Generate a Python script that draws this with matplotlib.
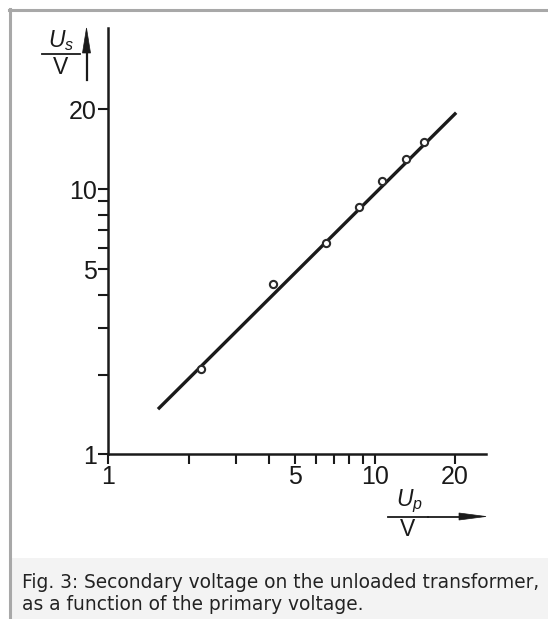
import matplotlib
matplotlib.use("Agg")
import matplotlib.pyplot as plt
from matplotlib import transforms
from matplotlib.lines import Line2D
from matplotlib.patches import Polygon, Rectangle
from matplotlib.ticker import FixedLocator, NullFormatter

# ---- data ----
primary_voltage = [2.23, 4.14, 6.54, 8.72, 10.66, 13.12, 15.32]
secondary_voltage = [2.09, 4.40, 6.25, 8.55, 10.75, 12.98, 15.04]
fit_primary = [1.535, 20.2]
fit_secondary = [1.48, 19.45]
major_ticks = [1, 5, 10, 20]
major_labels = ["1", "5", "10", "20"]
minor_ticks = [2, 3, 4, 6, 7, 8, 9]
caption_lines = ["Fig. 3: Secondary voltage on the unloaded transformer,",
                 "as a function of the primary voltage."]

W, H = 548, 619
plt.rcParams["mathtext.fontset"] = "custom"
plt.rcParams["mathtext.it"] = "Liberation Sans:italic"
plt.rcParams["mathtext.rm"] = "Liberation Sans"

fig = plt.figure(figsize=(W / 100, H / 100), dpi=100)
fig.patch.set_facecolor("white")
# transform: pixel coords measured from top-left
T = transforms.Affine2D().scale(1 / 100, -1 / 100).translate(0, H / 100) + fig.dpi_scale_trans

ink = "#1a1a1a"

# frame and caption box
fig.add_artist(Rectangle((11.5, 558), W - 11.5, H - 558, transform=T,
                         facecolor="#f3f3f3", edgecolor="none", zorder=0))
fig.add_artist(Line2D([8.5, W], [10, 10], transform=T, color="#a8a8a8", lw=2.2))
fig.add_artist(Line2D([10, 10], [8.5, H], transform=T, color="#a8a8a8", lw=2.2))

# axes: x 1..26.1 -> px 108.4..485.8 ; y 1..40.6 -> px 454.3..28
left, right = 108.4, 485.8
top, bottom = 28.0, 454.3
ax = fig.add_axes([left / W, 1 - bottom / H, (right - left) / W, (bottom - top) / H])
ax.set_xscale("log")
ax.set_yscale("log")
ax.set_xlim(1, 26.1)
ax.set_ylim(1, 40.6)
ax.patch.set_alpha(0)
for s in ["top", "right"]:
    ax.spines[s].set_visible(False)
for s in ["left", "bottom"]:
    ax.spines[s].set_linewidth(1.8)
    ax.spines[s].set_color(ink)

ax.plot(fit_primary, fit_secondary, color=ink, lw=2.4, solid_capstyle="butt", zorder=3)
ax.plot(primary_voltage, secondary_voltage, linestyle="none", marker="o", ms=5.2,
        mfc="white", mec="#2a2a2a", mew=1.5, zorder=4)

tickfont = {"family": ["Liberation Sans", "DejaVu Sans"], "size": 18}
for axis in (ax.xaxis, ax.yaxis):
    axis.set_major_locator(FixedLocator(major_ticks))
    axis.set_minor_locator(FixedLocator(minor_ticks))
    axis.set_minor_formatter(NullFormatter())
ax.set_xticklabels(major_labels, fontdict=tickfont)
ax.set_yticklabels(major_labels, fontdict=tickfont)
ax.tick_params(which="both", direction="out", length=7, width=1.5, color=ink, labelcolor=ink)
ax.tick_params(axis="x", which="major", pad=1)
ax.tick_params(axis="y", which="major", pad=1.5)

# axis labels (fraction style) and arrows
lab_font = {"family": ["Liberation Sans", "DejaVu Sans"], "size": 16.5, "color": ink}
fig.text(61 / W, 1 - 41 / H, r"$U_s$", ha="center", va="center", **lab_font)
fig.add_artist(Line2D([42, 80], [53.5, 53.5], transform=T, color=ink, lw=1.3))
fig.text(61 / W, 1 - 68 / H, "V", ha="center", va="center", **lab_font)
fig.add_artist(Line2D([86.5, 86.5], [80, 45], transform=T, color=ink, lw=1.6))
fig.add_artist(Polygon([[86.5, 28], [82.5, 53], [90.5, 53]], closed=True, transform=T,
                       facecolor=ink, edgecolor=ink, lw=0.5))

fig.text(409 / W, 1 - 501 / H, r"$U_p$", ha="center", va="center", **lab_font)
fig.add_artist(Line2D([388, 428], [516.5, 516.5], transform=T, color=ink, lw=1.3))
fig.text(408 / W, 1 - 530 / H, "V", ha="center", va="center", **lab_font)
fig.add_artist(Line2D([428, 462], [516.5, 516.5], transform=T, color=ink, lw=1.3))
fig.add_artist(Polygon([[486, 516.5], [459, 513], [459, 520]], closed=True, transform=T,
                       facecolor=ink, edgecolor=ink, lw=0.5))

# caption
cap_font = {"family": "DejaVu Sans", "size": 13.4, "color": "#222222"}
fig.text(22 / W, 1 - 587.5 / H, caption_lines[0], ha="left", va="baseline", **cap_font)
fig.text(22 / W, 1 - 610.5 / H, caption_lines[1], ha="left", va="baseline", **cap_font)

fig.savefig("out.png", dpi=100)
